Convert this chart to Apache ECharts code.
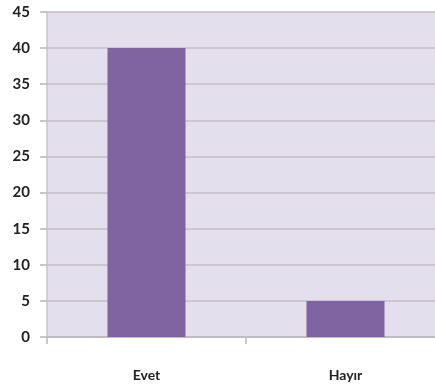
<!DOCTYPE html>
<html>
<head>
<meta charset="utf-8">
<script src="https://cdn.jsdelivr.net/npm/echarts@6/dist/echarts.min.js"></script>
<style>
  html, body { margin: 0; padding: 0; background: #ffffff; }
  #chart { width: 435px; height: 389px; }
</style>
</head>
<body>
<div id="chart"></div>
<script>
// Survey answers and their counts
const categories = ['Evet', 'Hayır'];
const counts = [40, 5];

const font = 'Lato, "Open Sans", sans-serif';

const chart = echarts.init(document.getElementById('chart'), null, { renderer: 'canvas' });
chart.setOption({
  animation: false,
  grid: {
    left: 47, top: 12, width: 398, height: 325,
    outerBoundsMode: 'none',
    show: true, backgroundColor: '#e4dfec', borderWidth: 0
  },
  xAxis: {
    type: 'category',
    data: categories,
    axisLine: { lineStyle: { color: '#b9b6bd', width: 1.5 } },
    axisTick: { show: true, length: 7, lineStyle: { color: '#b9b6bd', width: 1.5 } },
    axisLabel: { margin: 31, color: '#222', fontFamily: font, fontSize: 14, fontWeight: 'bold' }
  },
  yAxis: {
    type: 'value',
    min: 0, max: 45, interval: 5,
    axisLine: { show: true, lineStyle: { color: '#c9c5cf', width: 1.5 } },
    axisTick: { show: true, length: 7, lineStyle: { color: '#b9b6bd', width: 1.5 } },
    splitLine: { lineStyle: { color: '#c3bec9', width: 1.5 } },
    axisLabel: { margin: 17, color: '#222', fontFamily: font, fontSize: 15, fontWeight: 'bold' }
  },
  series: [{
    type: 'bar',
    data: counts,
    barWidth: 78,
    itemStyle: { color: '#8064a2' }
  }]
});
</script>
</body>
</html>
